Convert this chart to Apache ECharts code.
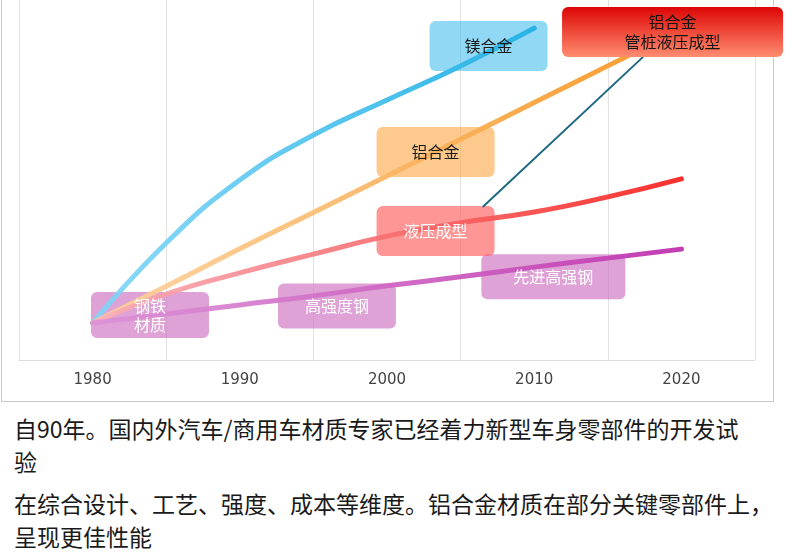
<!DOCTYPE html>
<html lang="zh">
<head>
    <meta charset="UTF-8">
    <title>车身材质发展</title>
    <script src="https://cdn.jsdelivr.net/npm/echarts@6.0.0/dist/echarts.min.js"></script>
    <style type="text/css">
        body{
            margin:0;
            background:#fff;
        }
        #wrap{
            position:relative;
            width:786px;
            height:402px;
        }
        #frame{
            position:absolute;
            left:1px;
            top:0;
            width:771px;
            height:401px;
            border:1px solid #cccccc;
            border-top:none;
        }
        #chart{
            position:absolute;
            left:0;
            top:0;
            width:786px;
            height:402px;
        }
        p.note{
            margin:0;
            padding-left:14px;
            font-family:"Noto Sans CJK SC", sans-serif;
            font-size:23px;
            line-height:33px;
            color:#1a1a1a;
            white-space:nowrap;
        }
    </style>
</head>
<body>
<div id="wrap">
    <div id="frame"></div>
    <div id="chart"></div>
</div>
<p class="note" style="margin-top:10px">自90年。国内外汽车/商用车材质专家已经着力新型车身零部件的开发试<br>验</p>
<p class="note" style="margin-top:9px">在综合设计、工艺、强度、成本等维度。铝合金材质在部分关键零部件上，<br>呈现更佳性能</p>
<script>
    // 坐标轴年份
    var years = ['1980', '1990', '2000', '2010', '2020'];
    // 曲线取点年份(每5年)
    var pointYears = [1980, 1985, 1990, 1995, 2000, 2005, 2010, 2015, 2020];
    // 各材质曲线
    var magnesium = [10.3, 32.5, 50.0, 62.5, 72.2, 81.7, 92.2];                // 镁合金
    var aluminum = [10.3, 20.5, 30.9, 41.0, 51.1, 61.3, 71.5, 81.7, 91.9];      // 铝合金
    var hydroForm = [10.3, 18.3, 24.2, 29.4, 34.4, 38.1, 41.1, 45.3, 50.3];     // 液压成型
    var steel = [10.3, 12.8, 15.3, 17.8, 20.6, 23.1, 25.8, 28.3, 30.8];         // 高强钢

    // 标注框 (x 为年份, y 与曲线同一刻度)
    var boxNames = ['钢铁\n材质', '高强度钢', '先进高强钢', '液压成型', '铝合金', '镁合金'];
    var boxX = [1983.9, 1996.6, 2011.3, 2003.3, 2003.3, 2006.9];
    var boxY = [12.5, 15.0, 23.1, 35.8, 57.8, 87.2];
    var topBoxName = '铝合金\n管桩液压成型';
    var topBoxX = 2019.4;
    var topBoxY = 91.1;
    // 连接线
    var linkX = [2006.5, 2017.4];
    var linkY = [42.5, 84.2];

    function pairs(xs, ys) {
        var out = [];
        for (var i = 0; i < ys.length; i++) {
            out.push([xs[i], ys[i]]);
        }
        return out;
    }
    function roundBox(w, h, r) {
        return 'path://M' + r + ',0H' + (w - r) + 'A' + r + ',' + r + ' 0 0 1 ' + w + ',' + r +
            'V' + (h - r) + 'A' + r + ',' + r + ' 0 0 1 ' + (w - r) + ',' + h +
            'H' + r + 'A' + r + ',' + r + ' 0 0 1 0,' + (h - r) +
            'V' + r + 'A' + r + ',' + r + ' 0 0 1 ' + r + ',0Z';
    }
    function grad(a, b) {
        return new echarts.graphic.LinearGradient(0, 0, 1, 0, [
            {offset: 0, color: a},
            {offset: 1, color: b}
        ]);
    }

    var boxSize = [[118, 46], [118, 45], [144, 45], [118, 50], [118, 50], [118, 50]];
    var boxColor = ['rgba(210,122,198,0.7)', 'rgba(210,122,198,0.7)', 'rgba(210,122,198,0.7)',
        'rgba(255,100,100,0.68)', 'rgba(252,168,70,0.62)', 'rgba(70,190,236,0.6)'];
    var textColor = ['#fff', '#fff', '#fff', '#fff', '#1a1a1a', '#1a1a1a'];

    var boxData = [], textData = [];
    for (var i = 0; i < boxNames.length; i++) {
        boxData.push({
            value: [boxX[i], boxY[i]],
            symbol: roundBox(boxSize[i][0], boxSize[i][1], 6),
            symbolSize: boxSize[i],
            itemStyle: {color: boxColor[i], opacity: 1}
        });
        textData.push({
            name: boxNames[i],
            value: [boxX[i], boxY[i]],
            label: {color: textColor[i]}
        });
    }

    var lineBase = {
        type: 'line',
        xAxisIndex: 1,
        smooth: true,
        symbol: 'none',
        z: 3,
        silent: true
    };

    var myEcharts = echarts.init(document.getElementById('chart'));
    myEcharts.setOption({
        animation: false,
        grid: {left: 19, right: 31, top: 0, bottom: 42},
        xAxis: [{
            type: 'category',
            data: years,
            boundaryGap: true,
            axisLine: {lineStyle: {color: '#dcdcdc'}},
            axisTick: {show: false},
            splitLine: {show: true, lineStyle: {color: '#e2e2e2'}},
            axisLabel: {color: '#444', fontSize: 15, margin: 13, fontFamily: 'DejaVu Sans'}
        }, {
            type: 'value',
            min: 1975,
            max: 2025,
            show: false
        }],
        yAxis: {
            type: 'value',
            min: 0,
            max: 100,
            show: false
        },
        series: [
            {
                type: 'scatter',
                xAxisIndex: 1,
                z: 2,
                silent: true,
                data: boxData
            },
            Object.assign({}, lineBase, {
                name: '镁合金', data: pairs(pointYears, magnesium),
                lineStyle: {width: 5, cap: 'round', color: grad('rgba(130,214,247,0.9)', '#27b3e5')}
            }),
            Object.assign({}, lineBase, {
                name: '铝合金', data: pairs(pointYears, aluminum),
                lineStyle: {width: 5, cap: 'round', color: grad('rgba(253,210,158,0.9)', '#f79a2a')}
            }),
            Object.assign({}, lineBase, {
                name: '液压成型', data: pairs(pointYears, hydroForm),
                lineStyle: {width: 5, cap: 'round', color: grad('rgba(248,176,186,0.9)', '#f8302c')}
            }),
            Object.assign({}, lineBase, {
                name: '高强钢', data: pairs(pointYears, steel),
                lineStyle: {width: 5, cap: 'round', color: grad('rgba(220,146,214,0.9)', '#c23cb2')}
            }),
            {
                type: 'line',
                xAxisIndex: 1,
                symbol: 'none',
                z: 3,
                silent: true,
                data: pairs(linkX, linkY),
                lineStyle: {width: 2, color: '#1d6882'}
            },
            {
                type: 'scatter',
                xAxisIndex: 1,
                z: 4,
                silent: true,
                data: [{
                    name: topBoxName,
                    value: [topBoxX, topBoxY],
                    symbol: roundBox(221, 50, 6),
                    symbolSize: [221, 50],
                    itemStyle: {
                        opacity: 1,
                        color: new echarts.graphic.LinearGradient(0, 0, 0, 1, [
                            {offset: 0, color: '#dc0505'},
                            {offset: 0.5, color: '#ef4a3a'},
                            {offset: 1, color: '#ff8d70'}
                        ])
                    }
                }],
                label: {
                    show: true,
                    position: 'inside',
                    formatter: '{b}',
                    color: '#161616',
                    fontSize: 16,
                    lineHeight: 20,
                    fontFamily: 'Noto Sans CJK SC'
                }
            },
            {
                type: 'scatter',
                xAxisIndex: 1,
                z: 5,
                silent: true,
                symbolSize: 0,
                itemStyle: {opacity: 1},
                data: textData,
                label: {
                    show: true,
                    position: 'inside',
                    formatter: '{b}',
                    fontSize: 16,
                    lineHeight: 19,
                    fontFamily: 'Noto Sans CJK SC'
                }
            }
        ]
    });
</script>
</body>
</html>
